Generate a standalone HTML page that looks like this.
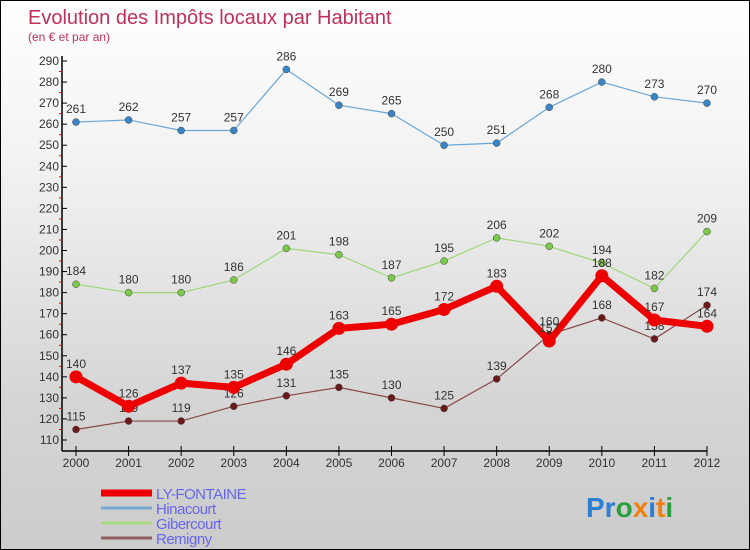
<!DOCTYPE html>
<html><head><meta charset="utf-8"><style>
body{margin:0;}
#c{width:750px;height:550px;position:relative;box-sizing:border-box;border:1px solid #000;background:linear-gradient(#ffffff 0%,#f2f2f2 30%,#d4d4d4 75%,#cccccc 100%);font-family:"Liberation Sans",sans-serif;overflow:hidden}
</style></head><body>
<div id="c">
<svg id="s" width="750" height="550">
<text x="27" y="23" font-size="20" fill="#c0305a">Evolution des Impôts locaux par Habitant</text>
<text x="27" y="40" font-size="12" fill="#c0305a">(en € et par an)</text>
<g id="g"></g>
<text x="585" y="516" font-size="28" font-weight="bold"><tspan fill="#2a7fd4">Pr</tspan><tspan fill="#2aa040">o</tspan><tspan fill="#f08010">x</tspan><tspan fill="#2a7fd4">i</tspan><tspan fill="#f08010">t</tspan><tspan fill="#2aa040">i</tspan></text>
</svg></div>
<script>
const years=["2000","2001","2002","2003","2004","2005","2006","2007","2008","2009","2010","2011","2012"];
const yTicks=[110,120,130,140,150,160,170,180,190,200,210,220,230,240,250,260,270,280,290];
const hinacourt=[261,262,257,257,286,269,265,250,251,268,280,273,270];
const gibercourt=[184,180,180,186,201,198,187,195,206,202,194,182,209];
const lyFontaine=[140,126,137,135,146,163,165,172,183,157,188,167,164];
const remigny=[115,119,119,126,131,135,130,125,139,160,168,158,174];
const NS="http://www.w3.org/2000/svg";
const g=document.getElementById('g');
const X=i=>75+i*(706-75)/(years.length-1);
const Y=v=>439-(v-110)*(439-60)/180;
function mk(t,a,p){const e=document.createElementNS(NS,t);for(const k in a)e.setAttribute(k,a[k]);(p||g).appendChild(e);return e;}
// axes
let e=mk('line',{x1:61,y1:55,x2:61,y2:450,stroke:'#000','stroke-width':1.5});


e=mk('line',{x1:61,y1:450,x2:706,y2:450,stroke:'#000','stroke-width':1.5});


yTicks.forEach((v,i)=>{
 mk('line',{x1:61,y1:Y(v),x2:66,y2:Y(v),stroke:'#000'});
 if(i<yTicks.length-1)mk('line',{x1:58,y1:Y(v+5),x2:61,y2:Y(v+5),stroke:'#e00'});
 const t=mk('text',{x:58,y:Y(v)+4,'text-anchor':'end','font-size':12,fill:'#333'});
 t.textContent=v;
 
 
});
years.forEach((y,i)=>{
 mk('line',{x1:X(i),y1:445,x2:X(i),y2:455,stroke:'#000'});
 const t=mk('text',{x:X(i),y:466,'text-anchor':'middle','font-size':12,fill:'#333'});
 t.textContent=y;
 
 
});
function series(data,color,w,r,dot,name){
 const pl=mk('polyline',{points:data.map((v,i)=>X(i)+','+Y(v)).join(' '),fill:'none',stroke:color,'stroke-width':w,'stroke-linejoin':'round'});
 
 
 data.forEach((v,i)=>{
  const c=mk('circle',{cx:X(i),cy:Y(v),r:r,fill:dot,stroke:w>4?'none':'#444','stroke-width':0.5});
  
  
  const t=mk('text',{x:X(i),y:Y(v)-9,'text-anchor':'middle','font-size':12,fill:'#333'});
  t.textContent=v;
  
  
 });
}
series(hinacourt,'#6aa6d8',1.2,3.5,'#3a85c5','hinacourt');
series(gibercourt,'#9ed67a',1.2,3.5,'#7cc84a','gibercourt');
series(remigny,'#8a4a4a',1.2,3.5,'#6a1a1a','remigny');
series(lyFontaine,'#ee0000',7,6.5,'#ee0000','ly-fontaine');
const leg=[["LY-FONTAINE","#ee0000",7],["Hinacourt","#7aaad0",3],["Gibercourt","#a8d880",3],["Remigny","#906060",3]];
leg.forEach((l,i)=>{
 const y=492+i*15;
 const ln=mk('line',{x1:100,y1:y,x2:151,y2:y,stroke:l[1],'stroke-width':l[2]});
 
 
 const t=mk('text',{x:155,y:y+6,'font-size':15,fill:'#6666ee','letter-spacing':'-0.5'});
 t.textContent=l[0];
 
 
});
</script>
</body></html>
